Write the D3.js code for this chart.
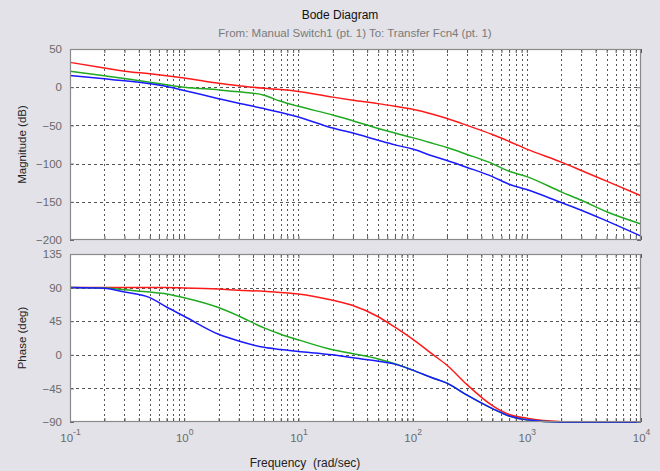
<!DOCTYPE html>
<html>
<head>
<meta charset="utf-8">
<script src="https://cdn.jsdelivr.net/npm/d3@7/dist/d3.min.js"></script>
<style>
  body { margin: 0; background: #e2e2e8; }
  svg { display: block; font-family: "Liberation Sans", Arial, sans-serif; }
</style>
</head>
<body>
<svg id="chart" width="660" height="471"></svg>
<script>
// Frequency samples (rad/sec)
const freq = [0.1, 0.2, 0.3, 0.5, 0.7, 1, 2, 3, 5, 7, 10, 20, 30, 50, 70, 100, 150, 200, 300, 500, 700, 1000, 2000, 3000, 5000, 10000];

// Magnitude (dB) for each of the three responses
const magRed   = [32.5, 25, 21, 17.5, 15, 12, 5.2, 2, -1.5, -3, -5.5, -13, -17, -21.5, -25, -29, -35.5, -41, -50, -62, -71, -81, -98, -109, -123, -142];
const magGreen = [20.8, 15, 11.5, 6.5, 3.2, 0, -3.5, -6, -10.5, -18.5, -25, -36.5, -44, -54, -60, -66, -73.5, -79, -88, -100, -110, -117, -137, -148, -163, -179];
const magBlue  = [15.2, 11, 8.5, 4.5, 1, -4.3, -15, -21, -28, -33, -39, -53.5, -60, -69.5, -75.5, -81, -90, -96, -105, -117, -127, -134, -151, -161, -175, -195];

// Phase (deg) for each of the three responses
const phaseRed   = [90, 90, 90, 90, 90, 89.5, 88, 86.5, 85, 83.5, 81.5, 73, 66, 51, 37, 21, 0.5, -14, -40, -68, -80, -85, -89.5, -90, -90, -90];
const phaseGreen = [90, 89.5, 87, 84, 81.5, 76.5, 63.3, 52, 36, 27.5, 20, 6.7, 1.5, -5.5, -12, -20.5, -31, -38, -54, -72, -82, -87, -90, -90, -90, -90];
const phaseBlue  = [90, 89, 84, 76.5, 64, 51.6, 27.5, 18.5, 10, 7, 4.5, 0, -4, -8.5, -12.5, -20.5, -31, -38, -54, -72, -82, -87, -90, -90, -90, -90];

const magTicks = [50, 0, -50, -100, -150, -200];
const phaseTicks = [135, 90, 45, 0, -45, -90];
const freqDecades = [0.1, 1, 10, 100, 1000, 10000];

const seriesColors = ["#ff1a1a", "#1faa1f", "#1a1aff"];

const svg = d3.select("#chart");
const left = 70, right = 641;

const x = d3.scaleLog().domain([0.1, 10000]).range([left, right]);
const yMag = d3.scaleLinear().domain([-200, 50]).range([240, 49]);
const yPhase = d3.scaleLinear().domain([-90, 135]).range([422, 254]);

// every 1..9 x 10^k position for the log grid
const minorFreqs = [];
for (let k = -1; k < 4; k++) {
  for (let m = 1; m <= 9; m++) minorFreqs.push(m * Math.pow(10, k));
}
minorFreqs.push(10000);

function panel(y, ticks, series, label) {
  const [y0, y1] = y.range();
  const g = svg.append("g");
  g.append("rect")
    .attr("x", left).attr("y", y1)
    .attr("width", right - left).attr("height", y0 - y1)
    .attr("fill", "#ffffff");

  // vertical grid
  g.append("g").selectAll("line").data(minorFreqs.filter(f => f > 0.1 && f < 10000)).join("line")
    .attr("x1", d => Math.round(x(d)) + 0.5).attr("x2", d => Math.round(x(d)) + 0.5)
    .attr("y1", y1).attr("y2", y0)
    .attr("stroke", "#555").attr("stroke-width", 1)
    .attr("stroke-dasharray", "2,3");

  // horizontal grid
  g.append("g").selectAll("line").data(ticks.slice(1, -1)).join("line")
    .attr("x1", left).attr("x2", right)
    .attr("y1", d => Math.round(y(d)) + 0.5).attr("y2", d => Math.round(y(d)) + 0.5)
    .attr("stroke", "#555").attr("stroke-width", 1)
    .attr("stroke-dasharray", "3,3");

  // curves
  const line = d3.line().x((d, i) => x(freq[i])).y(d => y(d)).curve(d3.curveMonotoneX);
  series.forEach((vals, i) => {
    g.append("path").datum(vals)
      .attr("d", line)
      .attr("fill", "none")
      .attr("stroke", seriesColors[i])
      .attr("stroke-width", 1.5);
  });

  // left axis with tick labels
  const axL = g.append("g").attr("transform", `translate(${left},0)`)
    .call(d3.axisLeft(y).tickValues(ticks).tickSize(-4).tickPadding(8));
  axL.select(".domain").remove();
  axL.selectAll("line").attr("stroke", "#666");
  axL.selectAll("text").attr("fill", "#6a6a6a").attr("font-size", 11.5)
    .attr("font-family", "'Liberation Sans', Arial, sans-serif");

  const axR = g.append("g").attr("transform", `translate(${right},0)`)
    .call(d3.axisRight(y).tickValues(ticks).tickSize(-4).tickFormat(""));
  axR.select(".domain").remove();
  axR.selectAll("line").attr("stroke", "#666");

  // top / bottom inside ticks on the frequency axis
  [y0, y1].forEach((yy, j) => {
    const ax = j === 0 ? d3.axisBottom(x).tickSize(-4) : d3.axisTop(x).tickSize(-4);
    const a = g.append("g").attr("transform", `translate(0,${yy})`)
      .call(ax.tickValues(minorFreqs).tickFormat(""));
    a.select(".domain").remove();
    a.selectAll("line").attr("stroke", "#555");
  });

  // frame
  g.append("rect")
    .attr("x", left + 0.5).attr("y", y1 + 0.5)
    .attr("width", right - left - 1).attr("height", y0 - y1 - 1)
    .attr("fill", "none").attr("stroke", "#8a8a8a").attr("stroke-width", 1.2);

  // axis title
  const cy = (y0 + y1) / 2;
  g.append("text")
    .attr("transform", `translate(26,${cy}) rotate(-90)`)
    .attr("text-anchor", "middle")
    .attr("font-size", 11.5).attr("fill", "#222")
    .text(label);
}

panel(yMag, magTicks, [magRed, magGreen, magBlue], "Magnitude (dB)");
panel(yPhase, phaseTicks, [phaseRed, phaseGreen, phaseBlue], "Phase (deg)");

// decade labels with superscript exponents
const xAx = svg.append("g").attr("transform", "translate(0,422)")
  .call(d3.axisBottom(x).tickValues(freqDecades).tickSize(0).tickFormat(""));
xAx.select(".domain").remove();
xAx.selectAll(".tick").append("text")
  .attr("y", 20).attr("text-anchor", "middle")
  .attr("fill", "#6a6a6a").attr("font-size", 11.5)
  .each(function(d) {
    const t = d3.select(this);
    t.append("tspan").text("10");
    t.append("tspan").attr("dy", -7).attr("font-size", 8.5)
      .text(Math.round(Math.log10(d)));
  });

// titles
svg.append("text").attr("x", 340).attr("y", 19).attr("text-anchor", "middle")
  .attr("font-size", 12).attr("fill", "#111").text("Bode Diagram");
svg.append("text").attr("x", 355).attr("y", 37).attr("text-anchor", "middle")
  .attr("font-size", 11.5).attr("fill", "#7a7a7a")
  .text("From: Manual Switch1 (pt. 1)  To: Transfer Fcn4 (pt. 1)");
svg.append("text").attr("x", 305).attr("y", 467).attr("text-anchor", "middle")
  .attr("font-size", 12).attr("fill", "#222").attr("xml:space", "preserve")
  .text("Frequency  (rad/sec)");
</script>
</body>
</html>
